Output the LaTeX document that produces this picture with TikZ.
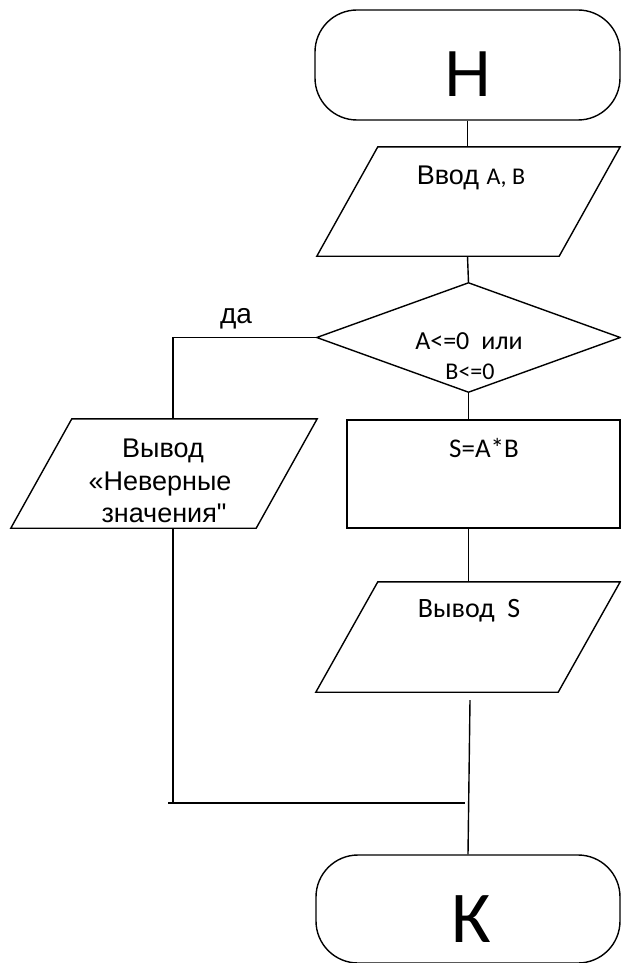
\documentclass[tikz,border=0pt]{standalone}
\usepackage{fontspec}
\setmainfont{Liberation Sans}
\newfontfamily\calfont{Carlito}
\newfontfamily\plainfont{Liberation Sans}
\usetikzlibrary{calc}
\tikzset{
  shape line/.style={draw=black, line width=1.4pt},
  box/.style={shape line, rectangle, inner sep=0pt},
  hidden/.style={rectangle, inner sep=0pt, draw=none},
  term/.style={box, rounded corners=42pt},
  conn/.style={draw=black, line width=1.4pt},
  txt/.style={inner sep=0pt, anchor=base, text=black},
}
\newcommand{\fsz}[1]{\fontsize{#1}{#1}\selectfont}
\begin{document}
\begin{tikzpicture}[x=1pt,y=-1pt]
\useasboundingbox (0,0) rectangle (621,963);
\begin{scope}
\clip (0,0) rectangle (621,963);
% shapes
\node[term, minimum width=305pt, minimum height=110pt] (start) at (467.5,65) {};
\node[hidden, minimum width=303pt, minimum height=109pt] (in) at (468.5,201.5) {};
\draw[shape line] (in.south west) -- ($(in.north west)+(61,0)$) -- (in.north east) -- ($(in.south east)+(-61,0)$) -- cycle;
\node[hidden, minimum width=303pt, minimum height=109pt] (dec) at (468.5,337.5) {};
\draw[shape line] (dec.north) -- (dec.east) -- (dec.south) -- (dec.west) -- cycle;
\node[hidden, minimum width=306pt, minimum height=109pt] (err) at (164,473.5) {};
\draw[shape line] (err.south west) -- ($(err.north west)+(61,0)$) -- (err.north east) -- ($(err.south east)+(-61,0)$) -- cycle;
\node[box, minimum width=273pt, minimum height=108pt] (calc) at (483.5,474) {};
\node[hidden, minimum width=304pt, minimum height=110pt] (out) at (468,637) {};
\draw[shape line] (out.south west) -- ($(out.north west)+(62,0)$) -- (out.north east) -- ($(out.south east)+(-62,0)$) -- cycle;
\node[term, minimum width=304pt, minimum height=108pt] (end) at (468,909) {};
% connectors
\coordinate (errtop) at ($(err.north)+(9,0)$);
\coordinate (errbot) at ($(err.south)+(9,0)$);
\coordinate (joinl) at (168,803);
\coordinate (joinr) at (465,803);
\coordinate (outbot) at ($(out.south)+(2,8)$);
\draw[conn] (start.south) -- (start.south |- in.north);
\draw[conn] (start.south |- in.south) -- (dec.north);
\draw[conn] (dec.west) -| (errtop);
\draw[conn] (dec.south) -- (dec.south |- calc.north);
\draw[conn] (dec.south |- calc.south) -- (dec.south |- out.north);
\draw[conn] (errbot) -- (errbot |- joinl);
\draw[conn] (joinl) -- (joinr);
\draw[conn] (outbot) -- (end.north);
\end{scope}
% texts
\node[txt] (tstart) at (468,97) {\fsz{65}Н};
\node[txt] (tin) at (471,184) {\fsz{27}Ввод {\calfont\fsz{24}A, B}};
\node[txt] (tdec1) at (469,349) {\calfont\fsz{26}A<=0\hspace{12pt}или};
\node[txt] (tdec2) at (470,379) {\calfont\fsz{24}B<=0};
\node[txt] (tyes) at (236,323) {\fsz{28}да};
\node[txt] (terr1) at (163,457) {\fsz{27}Вывод};
\node[txt] (terr2) at (160,490) {\fsz{27}«Неверные};
\node[txt] (terr3) at (164,522) {\fsz{27}значения{\plainfont"}};
\node[txt] (tcalc) at (484,457) {\calfont\fsz{27}S=A*B};
\node[txt] (tout) at (469,617) {\calfont\fsz{28}Вывод\ \ S};
\node[txt] (tend) at (471,942) {\calfont\fsz{73}К};
\end{tikzpicture}
\end{document}
